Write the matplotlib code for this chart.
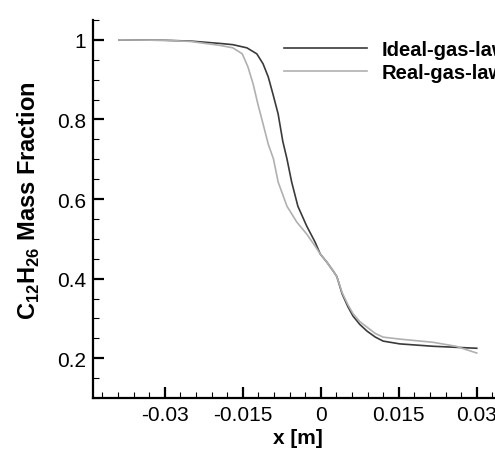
import matplotlib
matplotlib.use("Agg")
import matplotlib.pyplot as plt
from matplotlib.ticker import MultipleLocator, FixedLocator

plt.rcParams['font.family'] = ['Liberation Sans', 'DejaVu Sans']
plt.rcParams['mathtext.fontset'] = 'custom'
plt.rcParams['mathtext.rm'] = 'Liberation Sans'
plt.rcParams['mathtext.bf'] = 'Liberation Sans:bold'

# Data
ideal_x = [-0.0388, -0.0300, -0.0250, -0.0193, -0.0169, -0.0142, -0.0123, -0.0111,
           -0.0101, -0.0092, -0.0082, -0.0073, -0.0065, -0.0056, -0.0044, -0.0027,
           -0.0011, -0.0001, 0.0012, 0.0024, 0.0031, 0.0041, 0.0052, 0.0062,
           0.0075, 0.0089, 0.0105, 0.0120, 0.0152, 0.0216, 0.0300]
ideal_y = [1.000, 0.999, 0.997, 0.991, 0.988, 0.980, 0.965, 0.940,
           0.907, 0.864, 0.814, 0.745, 0.701, 0.643, 0.582, 0.532,
           0.492, 0.462, 0.441, 0.419, 0.405, 0.362, 0.330, 0.306,
           0.285, 0.268, 0.253, 0.243, 0.236, 0.230, 0.225]

real_x = [-0.0388, -0.0300, -0.0250, -0.0193, -0.0169, -0.0151, -0.0140, -0.0130,
          -0.0121, -0.0111, -0.0101, -0.0091, -0.0082, -0.0065, -0.0046, -0.0027,
          -0.0011, -0.0001, 0.0012, 0.0024, 0.0031, 0.0041, 0.0052, 0.0062,
          0.0075, 0.0089, 0.0105, 0.0120, 0.0152, 0.0216, 0.0260, 0.0300]
real_y = [1.000, 0.999, 0.996, 0.986, 0.980, 0.965, 0.932, 0.889,
          0.839, 0.789, 0.738, 0.701, 0.643, 0.582, 0.542, 0.512,
          0.482, 0.462, 0.441, 0.419, 0.405, 0.365, 0.335, 0.312,
          0.292, 0.278, 0.262, 0.253, 0.248, 0.240, 0.230, 0.213]

x_ticks = [-0.03, -0.015, 0, 0.015, 0.03]
x_tick_labels = ['-0.03', '-0.015', '0', '0.015', '0.03']
y_ticks = [0.2, 0.4, 0.6, 0.8, 1.0]
y_tick_labels = ['0.2', '0.4', '0.6', '0.8', '1']

series_labels = ['Ideal-gas-law', 'Real-gas-law']

fig = plt.figure(figsize=(4.95, 4.56), dpi=100)
W, H = 495, 456
left, bottom, top = 93, 399, 21
xmin, xmax = -0.0438, 0.035
ymin, ymax = 0.1, 1.05
px_per_x = 78 / 0.015
right = left + (xmax - xmin) * px_per_x
ax = fig.add_axes([left / W, (H - bottom) / H, (right - left) / W, (bottom - top) / H])

ax.plot(ideal_x, ideal_y, color='#3a3a3a', lw=1.2, label=series_labels[0])
ax.plot(real_x, real_y, color='#b0b0b0', lw=1.2, label=series_labels[1])

ax.set_xlim(xmin, xmax)
ax.set_ylim(ymin, ymax)
ax.xaxis.set_major_locator(FixedLocator(x_ticks))
ax.set_xticklabels(x_tick_labels)
ax.yaxis.set_major_locator(FixedLocator(y_ticks))
ax.set_yticklabels(y_tick_labels)
ax.xaxis.set_minor_locator(MultipleLocator(0.003))
ax.yaxis.set_minor_locator(MultipleLocator(0.05))

for s in ['top', 'right']:
    ax.spines[s].set_visible(False)
for s in ['left', 'bottom']:
    ax.spines[s].set_linewidth(1.6)

ax.tick_params(which='both', direction='in', width=1.2, labelsize=15, colors='black')
ax.tick_params(which='major', length=8, width=1.6, pad=5)
ax.tick_params(which='minor', length=4, width=0.8)

ax.set_xlabel('x [m]', fontsize=15, fontweight='bold', labelpad=3)
ax.set_ylabel(r'$\mathbf{C}_{\mathbf{12}}\mathbf{H}_{\mathbf{26}}$ Mass Fraction',
              fontsize=17, fontweight='bold')
ax.yaxis.set_label_coords(-0.125, 0.525)

leg = ax.legend(loc='upper left', bbox_to_anchor=(284 / W, 1 - 41 / H),
                bbox_transform=fig.transFigure, frameon=False,
                prop={'weight': 'bold', 'size': 14.5}, handlelength=4.1,
                handletextpad=0.75, labelspacing=0.2, borderpad=0, borderaxespad=0)

fig.savefig('out.png', dpi=100)
